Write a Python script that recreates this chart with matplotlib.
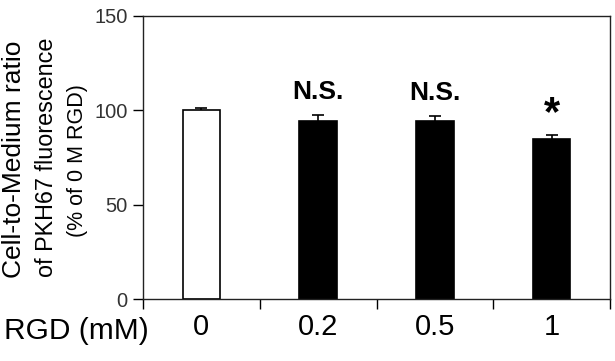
import matplotlib
matplotlib.use("Agg")
import matplotlib.pyplot as plt
import numpy as np

plt.rcParams["font.family"] = ["Liberation Sans", "DejaVu Sans"]

# Datos
doses = ["0", "0.2", "0.5", "1"]
ratio = [100, 94.2, 94.2, 84.8]
err = [1.5, 3.5, 3.0, 2.0]
colors = ["white", "black", "black", "black"]
marks = ["", "N.S.", "N.S.", "*"]

fig = plt.figure(figsize=(6.15, 3.61), dpi=100)
ax = fig.add_axes([0.2325, 0.1717, 0.7594, 0.784])

x = np.arange(len(doses)) + 0.5
ax.bar(x, ratio, width=0.32, color=colors, edgecolor="black", linewidth=1.2, zorder=2)
ax.errorbar(x, ratio, yerr=err, fmt="none", ecolor="black", elinewidth=1.2,
            capsize=4, capthick=1.2, zorder=1)

for xi, yi, e, m in zip(x, ratio, err, marks):
    if m == "*":
        ax.text(xi, yi + e + 0.5, m, ha="center", va="bottom", fontsize=30, fontweight="bold")
    elif m:
        ax.text(xi, yi + e + 5.5, m, ha="center", va="bottom", fontsize=19, fontweight="bold")

ax.set_xlim(0, len(doses))
ax.set_ylim(0, 150)
ax.set_yticks([0, 50, 100, 150])
ax.tick_params(axis="y", labelsize=14.5, labelcolor="#333333", length=7, width=1, pad=4)
ax.set_xticks(np.arange(len(doses) + 1))
ax.set_xticklabels([])
ax.tick_params(axis="x", which="major", length=7, width=1)
ax.set_xticks(x, minor=True)
ax.set_xticklabels(doses, minor=True)
ax.tick_params(axis="x", which="minor", length=0, labelsize=21, pad=10)
for s in ax.spines.values():
    s.set_linewidth(1)
    s.set_color("#222222")

# Etiquetas del eje y (tres líneas)
fig.text(14 / 615, 0.56, "Cell-to-Medium ratio", rotation=90, ha="center", va="center", fontsize=19)
fig.text(47 / 615, 0.565, "of PKH67 fluorescence", rotation=90, ha="center", va="center", fontsize=16.8)
fig.text(77 / 615, 0.555, "(% of 0 M RGD)", rotation=90, ha="center", va="center", fontsize=15.5)
fig.text(76 / 615, 1 - 331 / 361, "RGD (mM)", ha="center", va="center", fontsize=21.5)

fig.savefig("out.png", dpi=100)
